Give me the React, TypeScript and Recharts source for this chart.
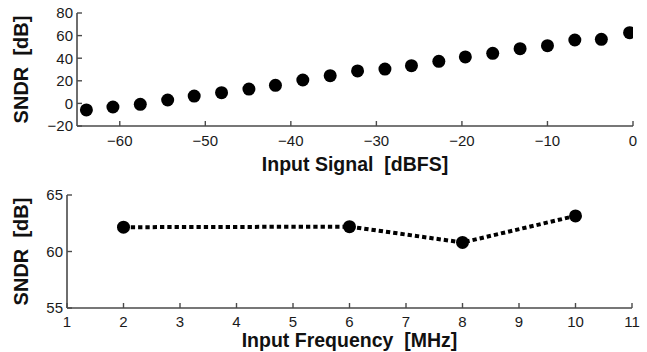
import React from 'react';
import { ScatterChart, Scatter, LineChart, Line, XAxis, YAxis } from 'recharts';

// Top panel: SNDR vs input signal level
const inputSignalDbfs = [-63.9, -60.8, -57.6, -54.4, -51.3, -48.1, -44.9, -41.8, -38.6, -35.4, -32.2, -29.0, -25.9, -22.7, -19.6, -16.4, -13.2, -10.0, -6.8, -3.7, -0.4];
const sndrVsSignal = [-5.8, -3.2, -0.8, 3.0, 6.5, 9.5, 12.7, 16.0, 20.7, 24.5, 28.7, 30.4, 33.4, 37.2, 41.1, 44.3, 48.4, 51.1, 56.1, 56.7, 62.6];
const signalTicks = [-60, -50, -40, -30, -20, -10, 0];
const sndrTicksTop = [-20, 0, 20, 40, 60, 80];

// Bottom panel: SNDR vs input frequency
const inputFreqMhz = [2, 6, 8, 10];
const sndrVsFreq = [62.15, 62.2, 60.8, 63.15];
const freqTicks = [1, 2, 3, 4, 5, 6, 7, 8, 9, 10, 11];
const sndrTicksBottom = [55, 60, 65];

const topData = inputSignalDbfs.map((x, i) => ({ x, y: sndrVsSignal[i] }));
const bottomData = inputFreqMhz.map((x, i) => ({ x, y: sndrVsFreq[i] }));

const FONT = '"Liberation Sans", Arial, Helvetica, sans-serif';
const AX = '#4a4a4a';
const fmt = (v: number) => String(v).replace('-', '\u2212');
const blank = () => '';
const tickStyle = { fill: '#1a1a1a', fontSize: 15, fontFamily: FONT };
const axisLine = { stroke: AX, strokeWidth: 1.6 };
const tickLine = { stroke: AX, strokeWidth: 1.4 };

const yLabel = (props: any) => {
  const vb = props.viewBox || {};
  const x = (vb.x || 0) + 28;
  const y = (vb.y || 0) + (vb.height || 0) / 2;
  return (
    <text x={x} y={y} transform={`rotate(-90, ${x}, ${y})`} textAnchor="middle" fontFamily={FONT} fontWeight="bold" fontSize={20} fill="#111" style={{ whiteSpace: 'pre' }}>
      SNDR  [dB]
    </text>
  );
};

const xLabel = (text: string, dy: number) => (props: any) => {
  const vb = props.viewBox || {};
  const x = (vb.x || 0) + (vb.width || 0) / 2;
  const y = (vb.y || 0) + dy;
  return (
    <text x={x} y={y} textAnchor="middle" fontFamily={FONT} fontWeight="bold" fontSize={19.5} fill="#111" style={{ whiteSpace: 'pre' }}>
      {text}
    </text>
  );
};

const Dot = (p: any) => <circle cx={p.cx} cy={p.cy} r={6.5} fill="#000" />;

export default function App() {
  return (
    <div style={{ position: 'absolute', left: 0, top: 0, width: 647, height: 352, background: '#fff', fontFamily: FONT }}>
      <div style={{ position: 'absolute', left: 0, top: 0 }}>
        <ScatterChart width={647} height={175} margin={{ top: 13, right: 14, left: 0, bottom: 0 }}>
          <XAxis xAxisId="b" dataKey="x" type="number" domain={[-65, 0]} ticks={signalTicks} allowDataOverflow
            height={49} tickSize={-5} tickMargin={14} tick={tickStyle} tickFormatter={fmt}
            axisLine={axisLine} tickLine={tickLine} label={{ content: xLabel('Input Signal  [dBFS]', 45) }} />
          <XAxis xAxisId="t" orientation="top" dataKey="x" type="number" domain={[-65, 0]} ticks={signalTicks} allowDataOverflow
            height={0} tickSize={-5} tickFormatter={blank} axisLine={axisLine} tickLine={tickLine} />
          <YAxis yAxisId="l" dataKey="y" type="number" domain={[-20, 80]} ticks={sndrTicksTop} allowDataOverflow
            width={77} tickSize={-5} tickMargin={9} tick={tickStyle} tickFormatter={fmt}
            axisLine={axisLine} tickLine={tickLine} label={{ content: yLabel }} />
          <YAxis yAxisId="r" orientation="right" dataKey="y" type="number" domain={[-20, 80]} ticks={sndrTicksTop} allowDataOverflow
            width={0} tickSize={-5} tickFormatter={blank} axisLine={axisLine} tickLine={tickLine} />
          <Scatter xAxisId="b" yAxisId="l" data={topData} shape={Dot} isAnimationActive={false} />
        </ScatterChart>
      </div>
      <div style={{ position: 'absolute', left: 0, top: 175 }}>
        <LineChart width={647} height={177} data={bottomData} margin={{ top: 20, right: 15, left: 0, bottom: 0 }}>
          <XAxis xAxisId="b" dataKey="x" type="number" domain={[1, 11]} ticks={freqTicks} allowDataOverflow
            height={44} tickSize={-5} tickMargin={13} tick={tickStyle} tickFormatter={fmt}
            axisLine={axisLine} tickLine={tickLine} label={{ content: xLabel('Input Frequency  [MHz]', 39) }} />
          <XAxis xAxisId="t" orientation="top" dataKey="x" type="number" domain={[1, 11]} ticks={freqTicks} allowDataOverflow
            height={0} tickSize={-5} tickFormatter={blank} axisLine={axisLine} tickLine={tickLine} />
          <YAxis yAxisId="l" type="number" domain={[55, 65]} ticks={sndrTicksBottom} allowDataOverflow
            width={67} tickSize={-5} tickMargin={9} tick={tickStyle} tickFormatter={fmt}
            axisLine={axisLine} tickLine={tickLine} label={{ content: yLabel }} />
          <YAxis yAxisId="r" orientation="right" type="number" domain={[55, 65]} ticks={sndrTicksBottom} allowDataOverflow
            width={0} tickSize={-5} tickFormatter={blank} axisLine={axisLine} tickLine={tickLine} />
          <Line xAxisId="b" yAxisId="l" type="linear" dataKey="y" stroke="#000" strokeWidth={4} strokeDasharray="4.3 3"
            dot={Dot} activeDot={false} isAnimationActive={false} />
        </LineChart>
      </div>
    </div>
  );
}
